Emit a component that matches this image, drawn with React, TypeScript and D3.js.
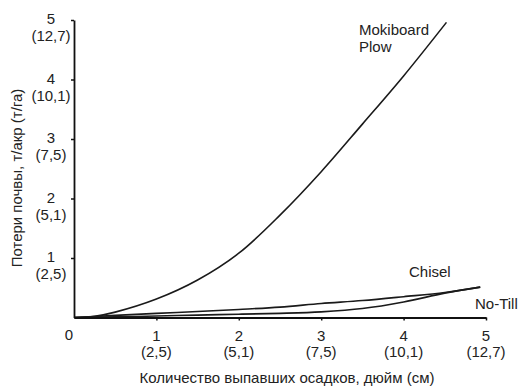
import React, { useRef, useEffect } from 'react';
import * as d3 from 'd3';

// rainfall, inches
const plowX = [0, 0.25, 0.5, 1, 1.5, 2, 2.5, 3, 3.5, 4, 4.52];
// soil loss, t/acre
const plowY = [0, 0.02, 0.09, 0.31, 0.63, 1.08, 1.72, 2.45, 3.25, 4.06, 4.96];

const chiselX = [0, 0.5, 1, 1.5, 2, 2.5, 3, 3.5, 4, 4.5, 4.93];
const chiselY = [0, 0.035, 0.07, 0.1, 0.135, 0.175, 0.235, 0.285, 0.35, 0.42, 0.51];

const noTillX = [0, 0.5, 1, 1.5, 2, 2.5, 3, 3.5, 4, 4.5, 4.93];
const noTillY = [0, 0.01, 0.025, 0.04, 0.055, 0.07, 0.095, 0.15, 0.26, 0.41, 0.51];

const tickValues = [1, 2, 3, 4, 5];
const tickMetric = ['(2,5)', '(5,1)', '(7,5)', '(10,1)', '(12,7)'];

const FONT = 'Arial, "Liberation Sans", sans-serif';

const App: React.FC = () => {
  const svgRef = useRef<SVGSVGElement | null>(null);

  useEffect(() => {
    if (!svgRef.current) return;
    const svg = d3.select(svgRef.current);
    svg.selectAll('*').remove();

    const x = d3.scaleLinear().domain([0, 5]).range([74, 486]);
    const y = d3.scaleLinear().domain([0, 5]).range([317.5, 20]);

    const line = d3.line<[number, number]>()
      .x(d => x(d[0]))
      .y(d => y(d[1]))
      .curve(d3.curveCatmullRom.alpha(0.5));

    const series = [
      plowX.map((v, i) => [v, plowY[i]] as [number, number]),
      chiselX.map((v, i) => [v, chiselY[i]] as [number, number]),
      noTillX.map((v, i) => [v, noTillY[i]] as [number, number]),
    ];

    svg.selectAll('path.curve')
      .data(series)
      .enter()
      .append('path')
      .attr('class', 'curve')
      .attr('d', d => line(d))
      .attr('fill', 'none')
      .attr('stroke', '#1a1a1a')
      .attr('stroke-width', 1.6);

    // axes
    const yAxis = svg.append('g')
      .attr('transform', `translate(${x(0)},0)`)
      .call(d3.axisLeft(y).tickValues(tickValues).tickSize(3).tickSizeOuter(0).tickFormat(() => ''));
    yAxis.select('.domain').attr('stroke', '#111').attr('stroke-width', 1.8);
    yAxis.selectAll('.tick line').attr('stroke', '#111').attr('stroke-width', 1.5);

    const xAxis = svg.append('g')
      .attr('transform', `translate(0,${y(0)})`)
      .call(d3.axisBottom(x).tickValues(tickValues).tickSize(3).tickSizeOuter(0).tickFormat(() => ''));
    xAxis.select('.domain').attr('stroke', '#111').attr('stroke-width', 1.8);
    xAxis.selectAll('.tick line').attr('stroke', '#111').attr('stroke-width', 1.5);

    // y tick labels
    const yl = svg.append('g')
      .attr('font-family', FONT)
      .attr('font-size', 15)
      .attr('fill', '#222')
      .attr('text-anchor', 'middle');
    tickValues.forEach((v, i) => {
      const t = yl.append('text').attr('x', 51).attr('y', y(v) + 4);
      t.append('tspan').attr('x', 51).text(String(v));
      t.append('tspan').attr('x', 51).attr('dy', 17).text(tickMetric[i]);
    });

    // x tick labels
    const xl = svg.append('g')
      .attr('font-family', FONT)
      .attr('font-size', 15)
      .attr('fill', '#222')
      .attr('text-anchor', 'middle');
    xl.append('text').attr('x', 69).attr('y', y(0) + 22).text('0');
    tickValues.forEach((v, i) => {
      const t = xl.append('text').attr('x', x(v)).attr('y', y(0) + 23);
      t.append('tspan').attr('x', x(v)).text(String(v));
      t.append('tspan').attr('x', x(v)).attr('dy', 16).text(tickMetric[i]);
    });

    // axis titles
    svg.append('text')
      .attr('x', 287)
      .attr('y', 383)
      .attr('text-anchor', 'middle')
      .attr('font-family', FONT)
      .attr('font-size', 15)
      .attr('fill', '#222')
      .text('Количество выпавших осадков, дюйм (см)');

    svg.append('text')
      .attr('transform', 'translate(22,178) rotate(-90)')
      .attr('text-anchor', 'middle')
      .attr('font-family', FONT)
      .attr('font-size', 15)
      .attr('fill', '#222')
      .text('Потери почвы, т/акр (т/га)');

    // series labels
    const lab = svg.append('g')
      .attr('font-family', FONT)
      .attr('font-size', 15)
      .attr('fill', '#222');
    lab.append('text').attr('x', 359).attr('y', 35).text('Mokiboard');
    lab.append('text').attr('x', 359).attr('y', 52).text('Plow');
    lab.append('text').attr('x', 409).attr('y', 277).text('Chisel');
    lab.append('text').attr('x', 475).attr('y', 309).text('No-Till');
  }, []);

  return (
    <svg
      ref={svgRef}
      width={520}
      height={388}
      style={{ position: 'absolute', left: 0, top: 0, background: '#fff' }}
    />
  );
};

export default App;
